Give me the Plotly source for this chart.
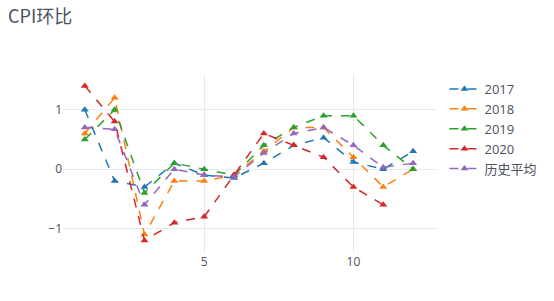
import plotly.graph_objects as go

months = list(range(1, 13))
y2017 = [1.0, -0.2, -0.3, 0.1, -0.1, -0.15, 0.1, 0.4, 0.53, 0.12, 0.0, 0.3]
y2018 = [0.6, 1.2, -1.1, -0.2, -0.2, -0.1, 0.3, 0.7, 0.7, 0.2, -0.3, 0.0]
y2019 = [0.5, 1.0, -0.4, 0.1, 0.0, -0.1, 0.4, 0.7, 0.9, 0.9, 0.4, 0.0]
y2020 = [1.4, 0.8, -1.2, -0.9, -0.8, -0.1, 0.6, 0.4, 0.2, -0.3, -0.6]
yavg = [0.7, 0.67, -0.6, 0.0, -0.1, -0.13, 0.27, 0.6, 0.7, 0.4, 0.03, 0.1]

series = [("2017", y2017), ("2018", y2018), ("2019", y2019), ("2020", y2020), ("历史平均", yavg)]
colors = ["#1f77b4", "#ff7f0e", "#2ca02c", "#d62728", "#9467bd"]

fig = go.Figure()
for (name, vals), c in zip(series, colors):
    fig.add_trace(go.Scatter(
        x=months[:len(vals)], y=vals, name=name, mode="lines+markers",
        line=dict(color=c, dash="dash", width=1.5),
        marker=dict(symbol="triangle-up", size=7, color=c),
    ))

fig.update_layout(
    template="plotly_white",
    width=554, height=301,
    margin=dict(l=63, r=115, t=74, b=48),
    title=dict(text="CPI环比", x=8/554, xanchor="left", xref="container",
               y=0.965, yanchor="top",
               font=dict(size=18, color="#4a5160",
                         family="Noto Sans CJK SC, sans-serif")),
    xaxis=dict(range=[0.27, 12.8], tickvals=[5, 10], zeroline=False,
               gridcolor="#E6E8F2"),
    yaxis=dict(range=[-1.41, 1.6], tickvals=[-1, 0, 1], zeroline=False,
               gridcolor="#E6E8F2"),
    legend=dict(font=dict(size=13)),
    font=dict(family="Open Sans, Noto Sans CJK SC, sans-serif", color="#4a5160"),
)
fig.write_html("out.html")
